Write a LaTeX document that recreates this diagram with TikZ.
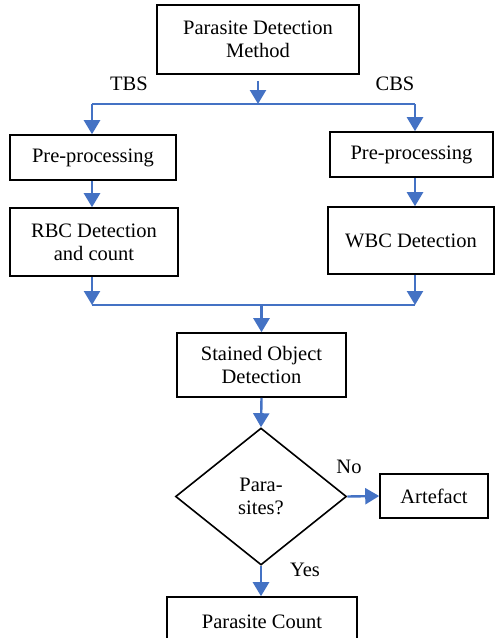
\documentclass[tikz,border=0pt]{standalone}
\usepackage{fontspec}
\setmainfont{Liberation Serif}
\usetikzlibrary{arrows.meta,shapes.geometric}
\definecolor{flowblue}{RGB}{68,114,196}

\begin{document}
\begin{tikzpicture}[x=1pt, y=-1pt, font=\fontsize{20.5}{23}\selectfont,
            box/.style = {draw, line width=1.6pt, align=center, inner sep=0pt},
            dec/.style = {draw, diamond, line width=1.6pt, align=center, inner sep=0pt,
                          minimum width=171pt, minimum height=137pt},
            lbl/.style = {inner sep=0pt},
            flow/.style = {draw=flowblue, line width=2.4pt, -{Triangle[length=14pt,width=16pt]}},
            link/.style = {draw=flowblue, line width=2.4pt}]
            \useasboundingbox (0,0) rectangle (495,638);
            \clip (0,0) rectangle (495,638);

            \node[box, minimum width=202pt, minimum height=69pt] (method) at (258,39.5) {Parasite Detection\\Method};
            \node[box, minimum width=166pt, minimum height=45pt] (preL) at (93,157.5) {Pre-processing};
            \node[box, minimum width=163pt, minimum height=45pt] (preR) at (411.5,154.5) {Pre-processing};
            \node[box, minimum width=168pt, minimum height=68pt] (rbc) at (94,242) {RBC Detection\\and count};
            \node[box, minimum width=166pt, minimum height=67pt] (wbc) at (411,240.5) {WBC Detection};
            \node[box, minimum width=169pt, minimum height=64pt] (stained) at (261.5,365) {Stained Object\\Detection};
            \node[dec] (parasites) at (261,496.5) {Para-\\sites?};
            \node[box, minimum width=108pt, minimum height=44pt] (artefact) at (434,496) {Artefact};
            \node[box, minimum width=190pt, minimum height=50pt] (count) at (262,622) {Parasite Count};

            \node[lbl] (tbs) at (129,84) {TBS};
            \node[lbl] (cbs) at (395,84) {CBS};
            \node[lbl] (no) at (349,467) {No};
            \node[lbl] (yes) at (305,570) {Yes};

            \coordinate (split) at (258,104);
            \coordinate (tl) at (92,104);
            \coordinate (tr) at (415,104);
            \coordinate (bl) at (92,305);
            \coordinate (br) at (415,305);

            % branch to the two smears
            \path[flow, shorten <=6pt] (method.south) -- (split);
            \path[link] (tl) -- (tr);
            \path[flow] (tl) -- (tl |- preL.north);
            \path[flow] (tr) -- (tr |- preR.north);

            \path[flow] (tl |- preL.south) -- (tl |- rbc.north);
            \path[flow] (tr |- preR.south) -- (tr |- wbc.north);

            % join again
            \path[flow] (bl |- rbc.south) -- (bl);
            \path[flow] (br |- wbc.south) -- (br);
            \path[link] (bl) -- (br);
            \path[flow] (stained.north |- bl) -- (stained.north);

            \path[flow] (stained.south) -- (parasites.north);
            \path[flow] (parasites.east) -- (artefact.west);
            \path[flow] (parasites.south) -- (parasites.south |- count.north);
        \end{tikzpicture}
\end{document}
